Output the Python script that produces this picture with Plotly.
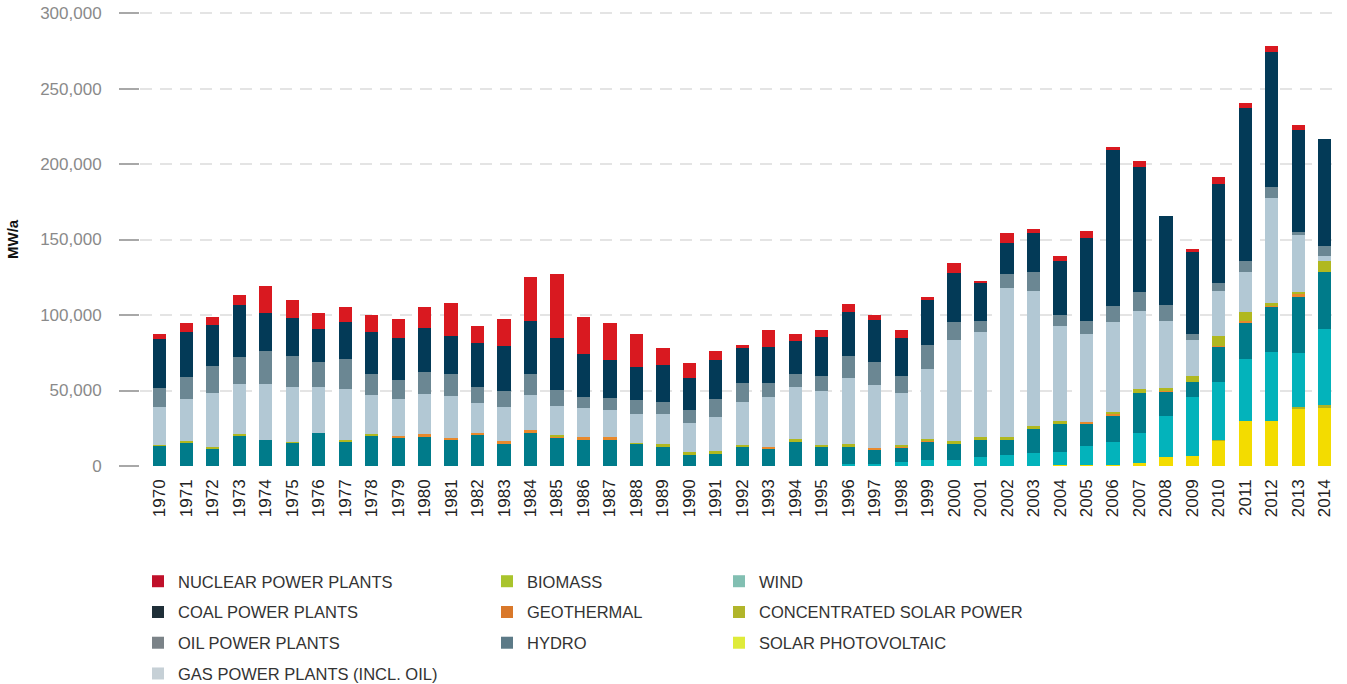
import plotly.graph_objects as go

# Annual capacity additions, values read in thousands of MW/a
years = [str(y) for y in range(1970, 2015)]

solar_pv = [0, 0, 0, 0, 0, 0, 0, 0, 0, 0,
            0, 0, 0, 0, 0, 0, 0, 0, 0, 0,
            0, 0, 0, 0, 0, 0, 0, 0, 0, 0,
            0, 0, 0, 0.3, 0.9, 0.7, 0.5, 2.2, 6.2, 6.8,
            16.8, 30.0, 30.0, 38.4, 38.4]
csp = [0, 0, 0, 0, 0, 0, 0, 0, 0, 0,
       0, 0, 0, 0, 0, 0, 0, 0, 0, 0,
       0, 0, 0, 0, 0, 0, 0, 0, 0, 0,
       0, 0, 0, 0, 0, 0, 0, 0, 0, 0,
       0.7, 0, 0, 0.9, 1.8]
wind = [0, 0, 0, 0, 0, 0, 0, 0, 0, 0,
        0, 0, 0, 0, 0, 0, 0, 0, 0, 0,
        0, 0, 0, 0, 0, 0, 1.1, 1.1, 2.6, 3.7,
        3.7, 6.2, 7.0, 8.1, 8.1, 12.3, 15.6, 19.4, 27.1, 38.6,
        37.9, 41.0, 45.7, 35.3, 50.5]
hydro = [13.5, 15.8, 11.4, 20.4, 17.1, 15.4, 21.8, 16.0, 20.4, 18.9,
         19.8, 17.8, 20.7, 15.2, 22.4, 18.9, 17.8, 17.8, 14.7, 13.2,
         7.9, 8.6, 12.6, 11.5, 15.9, 12.6, 11.5, 9.5, 9.7, 12.2,
         11.3, 10.8, 10.0, 16.5, 18.8, 14.8, 17.2, 26.5, 16.1, 10.0,
         23.6, 24.3, 29.7, 37.9, 37.5]
geothermal = [0, 0, 0, 0, 0, 0, 0, 0, 0, 0.9,
              1.1, 0.9, 1.1, 1.1, 1.3, 0.9, 1.3, 1.3, 0, 0,
              0, 0, 0, 1.1, 0, 0, 0, 1.3, 0.9, 1.3,
              0, 0, 0, 0, 0, 1.5, 1.1, 0, 0.8, 0,
              0.7, 0.9, 0.7, 1.3, 0]
biomass = [0.5, 0.7, 1.1, 1.1, 0, 0.4, 0, 1.1, 0.7, 0,
           0, 0, 0, 0, 0, 0.9, 0, 0, 0.7, 1.3,
           1.1, 1.1, 1.1, 0, 1.9, 1.1, 1.9, 0, 0.9, 0.9,
           1.3, 1.9, 1.9, 1.3, 1.9, 0, 1.6, 2.6, 1.2, 4.4,
           6.6, 5.5, 2.0, 1.6, 7.7]
gas = [25.1, 28.1, 35.6, 33.0, 37.4, 36.7, 30.7, 33.9, 25.9, 24.6,
       27.0, 27.7, 20.0, 22.8, 23.6, 19.3, 19.1, 18.3, 19.1, 20.0,
       19.8, 23.0, 29.0, 32.8, 34.8, 36.3, 43.6, 41.6, 34.1, 46.4,
       67.4, 70.1, 99.2, 89.4, 63.2, 58.1, 59.5, 52.1, 44.8, 23.8,
       29.3, 26.7, 69.5, 37.7, 3.3]
oil = [12.8, 14.5, 18.3, 18.0, 21.8, 20.2, 16.7, 20.0, 13.9, 12.7,
       14.5, 14.5, 10.7, 10.8, 13.6, 10.1, 7.3, 7.4, 9.0, 8.1,
       8.6, 11.9, 12.6, 9.9, 8.4, 9.9, 14.8, 15.7, 11.1, 15.7,
       11.9, 7.3, 9.2, 12.8, 7.3, 8.4, 10.8, 12.6, 10.4, 3.8,
       5.5, 7.5, 7.5, 2.0, 6.4]
coal = [32.5, 29.7, 27.0, 34.3, 25.2, 25.1, 21.3, 24.2, 27.9, 28.0,
        29.0, 25.0, 29.3, 29.9, 35.4, 35.0, 28.8, 25.7, 21.8, 24.4,
        20.6, 25.9, 22.7, 23.6, 21.6, 25.3, 28.9, 27.3, 25.3, 29.5,
        32.4, 25.3, 20.7, 26.0, 35.3, 54.9, 103.1, 82.9, 59.1, 54.4,
        65.5, 101.5, 88.9, 67.3, 71.0]
nuclear = [2.9, 5.7, 5.5, 6.6, 17.4, 11.9, 11.0, 10.1, 11.2, 12.0,
           13.9, 22.0, 10.7, 17.3, 29.0, 41.9, 24.6, 24.0, 22.0, 11.0,
           10.1, 5.5, 2.0, 11.2, 4.6, 4.7, 5.5, 3.5, 5.5, 2.2,
           6.6, 1.1, 6.4, 2.9, 3.7, 4.8, 1.7, 3.8, 0, 1.8,
           4.9, 3.1, 4.0, 3.5, 0]

# bottom-to-top stacking: (name, values, bar colour, legend colour)
series = [
    ("SOLAR PHOTOVOLTAIC", solar_pv, "#f3dc00", "#dfeb3a"),
    ("CONCENTRATED SOLAR POWER", csp, "#b0b420", "#b1b52a"),
    ("WIND", wind, "#03b3bb", "#82bfb2"),
    ("HYDRO", hydro, "#007b8a", "#5c7a87"),
    ("GEOTHERMAL", geothermal, "#e8892c", "#d9782a"),
    ("BIOMASS", biomass, "#b0b820", "#a9c42c"),
    ("GAS POWER PLANTS (INCL. OIL)", gas, "#b2c8d4", "#c6d0d6"),
    ("OIL POWER PLANTS", oil, "#6b8793", "#7b8388"),
    ("COAL POWER PLANTS", coal, "#033a57", "#1f2f38"),
    ("NUCLEAR POWER PLANTS", nuclear, "#d91920", "#c0102a"),
]

legend_order = {
    "legend": ["NUCLEAR POWER PLANTS", "COAL POWER PLANTS", "OIL POWER PLANTS", "GAS POWER PLANTS (INCL. OIL)"],
    "legend2": ["BIOMASS", "GEOTHERMAL", "HYDRO"],
    "legend3": ["WIND", "CONCENTRATED SOLAR POWER", "SOLAR PHOTOVOLTAIC"],
}

fig = go.Figure()
for name, vals, color, _ in series:
    fig.add_trace(go.Bar(
        x=years, y=[v * 1000 for v in vals], name=name,
        marker=dict(color=color, line=dict(width=0)),
        showlegend=False,
        hovertemplate="%{x}: %{y:,.0f}<extra>" + name + "</extra>",
    ))

# legend-only entries (zero height), the swatches use the lighter legend palette
lookup = {s[0]: s for s in series}
for leg, names in legend_order.items():
    for name in names:
        lcolor = lookup[name][3]
        fig.add_trace(go.Bar(
            x=[years[0]], y=[0], name=name, legend=leg, legendgroup=name,
            marker=dict(color=lcolor, line=dict(width=0)), hoverinfo="skip",
        ))

W, H = 1347, 684
L, R, T, B = 140, 9, 12, 218
legend_font = dict(family="Liberation Sans, Arial, sans-serif", size=16.5, color="#333333")
legend_common = dict(
    orientation="v", xref="container", yref="container",
    xanchor="left", yanchor="top", y=1 - 564 / H,
    font=legend_font, bgcolor="rgba(0,0,0,0)", tracegroupgap=6.3,
    itemclick=False, itemdoubleclick=False,
)

fig.update_layout(
    width=W, height=H,
    barmode="stack", bargap=0.5,
    plot_bgcolor="white", paper_bgcolor="white",
    margin=dict(l=L, r=R, t=T, b=B, autoexpand=False),
    font=dict(family="Liberation Sans, Arial, sans-serif"),
    xaxis=dict(
        type="category", range=[-0.75, 44.5], automargin=False,
        tickangle=-90, showgrid=False, showline=False, ticks="",
        tickfont=dict(size=17, color="#222222"),
        ticklabelstandoff=9,
    ),
    yaxis=dict(
        range=[0, 300700], tickvals=[0, 50000, 100000, 150000, 200000, 250000, 300000],
        tickformat=",d", showgrid=True, gridcolor="#e4e4e4", gridwidth=1.5,
        griddash="12px,8px", zeroline=False, showline=False, automargin=False,
        ticks="outside", ticklen=20, tickwidth=2, tickcolor="#a8a8a8",
        tickfont=dict(size=17, color="#8a8a8a"), ticklabelstandoff=14,
    ),
    annotations=[dict(
        text="<b>MW/a</b>", xref="paper", yref="paper",
        x=(12 - L) / (W - L - R), y=0.5, xanchor="center", yanchor="middle",
        textangle=-90, showarrow=False, font=dict(size=15, color="#111111"),
    )],
    legend=dict(legend_common, x=138 / W),
    legend2=dict(legend_common, x=487 / W),
    legend3=dict(legend_common, x=719 / W),
)

# drop the default 8px page margin so the figure fills the window exactly
fig.write_html(
    "out.html",
    config={"displayModeBar": False},
    post_script="document.body.style.margin = '0';",
)
